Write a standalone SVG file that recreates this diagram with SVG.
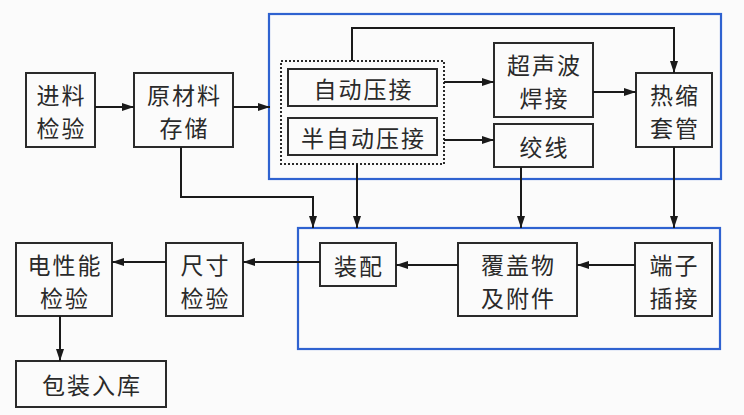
<svg xmlns="http://www.w3.org/2000/svg" width="744" height="415" viewBox="0 0 744 415">
<defs>
<marker id="ah" viewBox="0 0 12 8" refX="12" refY="4" markerWidth="12" markerHeight="8" markerUnits="userSpaceOnUse" orient="auto">
<path d="M0,0 L12,4 L0,8 Z" fill="#1a1a1a"/>
</marker>
<style>
.box{fill:#fbfbfb;stroke:#2a2a2a;stroke-width:2}
.grp{fill:none;stroke:#2f62d0;stroke-width:2.2}
.dot{fill:none;stroke:#2a2a2a;stroke-width:2;stroke-dasharray:2 2}
.c{fill:none;stroke:#1a1a1a;stroke-width:2;marker-end:url(#ah)}
text{font-family:"Noto Sans CJK SC","Liberation Serif",serif;font-size:23px;letter-spacing:2px;fill:#2a2a2a;text-anchor:middle;dominant-baseline:central}
</style>
</defs>
<rect width="744" height="415" fill="#fbfbfb"/>
<g id="groups">
<rect class="grp" x="269" y="14" width="452" height="165"/>
<rect class="grp" x="298" y="228" width="422" height="121"/>
<rect class="dot" x="281" y="61" width="163" height="103"/>
</g>
<g id="n1"><rect class="box" x="26" y="73" width="69" height="74"/><text x="61.5" y="93.5">进料<tspan x="61.5" dy="33.5">检验</tspan></text></g>
<g id="n2"><rect class="box" x="134" y="73" width="99" height="74"/><text x="184.5" y="93.5">原材料<tspan x="184.5" dy="33.5">存储</tspan></text></g>
<g id="n3"><rect class="box" x="288" y="69" width="149" height="37"/><text x="363.5" y="87.5">自动压接</text></g>
<g id="n4"><rect class="box" x="288" y="118" width="149" height="37"/><text x="363.5" y="136.5">半自动压接</text></g>
<g id="n5"><rect class="box" x="494" y="43" width="99" height="74"/><text x="544.5" y="63.5">超声波<tspan x="544.5" dy="33.5">焊接</tspan></text></g>
<g id="n6"><rect class="box" x="494" y="124" width="99" height="43"/><text x="544.5" y="145.5">绞线</text></g>
<g id="n7"><rect class="box" x="636" y="73" width="76" height="74"/><text x="675" y="93.5">热缩<tspan x="675" dy="33.5">套管</tspan></text></g>
<g id="n8"><rect class="box" x="320" y="243" width="76" height="43"/><text x="359" y="264.5">装配</text></g>
<g id="n9"><rect class="box" x="458" y="243" width="119" height="73"/><text x="518.5" y="263.5">覆盖物<tspan x="518.5" dy="33.5">及附件</tspan></text></g>
<g id="n10"><rect class="box" x="635" y="243" width="77" height="73"/><text x="674.5" y="263.5">端子<tspan x="674.5" dy="33.5">插接</tspan></text></g>
<g id="n11"><rect class="box" x="166" y="243" width="77" height="73"/><text x="205.5" y="263.5">尺寸<tspan x="205.5" dy="33.5">检验</tspan></text></g>
<g id="n12"><rect class="box" x="16" y="243" width="96" height="73"/><text x="65" y="263.5">电性能<tspan x="65" dy="33.5">检验</tspan></text></g>
<g id="n13"><rect class="box" x="16" y="361" width="150" height="46"/><text x="92" y="384">包装入库</text></g>
<g id="connectors">
<path class="c" d="M95,107 H134"/>
<path class="c" d="M233,107 H270"/>
<path class="c" d="M444,82 H494"/>
<path class="c" d="M444,140 H494"/>
<path class="c" d="M593,92 H636"/>
<path class="c" d="M352,61 V28 H674 V73"/>
<path class="c" d="M181,147 V197 H313 V228"/>
<path class="c" d="M357,164 V228"/>
<path class="c" d="M521,167 V228"/>
<path class="c" d="M674,147 V228"/>
<path class="c" d="M635,265 H577"/>
<path class="c" d="M458,265 H396"/>
<path class="c" d="M320,262 H243"/>
<path class="c" d="M166,262 H112"/>
<path class="c" d="M60,316 V361"/>
</g>
</svg>
